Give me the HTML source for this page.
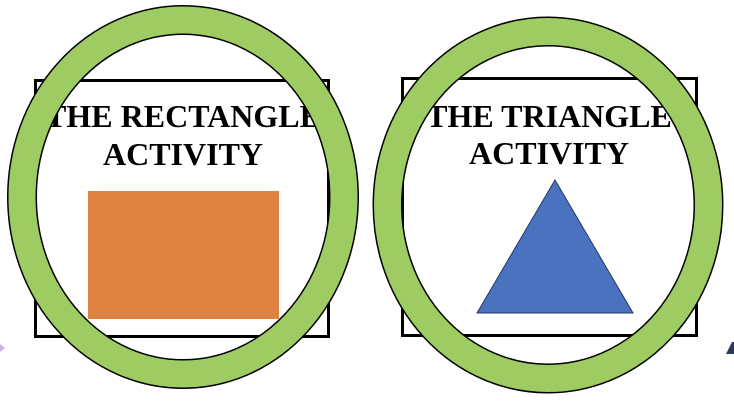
<!DOCTYPE html>
<html><head><style>html,body{margin:0;padding:0;background:#fff;width:734px;height:406px;overflow:hidden}</style></head>
<body>
<svg width="734" height="406" viewBox="0 0 734 406" xmlns="http://www.w3.org/2000/svg">
<rect x="35.5" y="80.5" width="293" height="256" fill="#fff" stroke="#000" stroke-width="3"/>
<text x="183" y="127" text-anchor="middle" font-family="Liberation Serif, serif" font-weight="bold" font-size="32">THE RECTANGLE</text>
<text x="183" y="165" text-anchor="middle" font-family="Liberation Serif, serif" font-weight="bold" font-size="32">ACTIVITY</text>
<rect x="88" y="191" width="191" height="128" fill="#E0823F"/>
<ellipse cx="183" cy="197" rx="161" ry="177" fill="none" stroke="#000" stroke-width="30"/>
<ellipse cx="183" cy="197" rx="161" ry="177" fill="none" stroke="#9FCC62" stroke-width="27"/>

<rect x="402.5" y="78.5" width="294" height="257" fill="#fff" stroke="#000" stroke-width="3"/>
<text x="549" y="127" text-anchor="middle" font-family="Liberation Serif, serif" font-weight="bold" font-size="32">THE TRIANGLE</text>
<text x="549" y="164" text-anchor="middle" font-family="Liberation Serif, serif" font-weight="bold" font-size="32">ACTIVITY</text>
<polygon points="555,180 477,313 633,313" fill="#4A72BE" stroke="#1f3864" stroke-width="1"/>
<ellipse cx="548" cy="205" rx="160.5" ry="173.5" fill="none" stroke="#000" stroke-width="30"/>
<ellipse cx="548" cy="205" rx="160.5" ry="173.5" fill="none" stroke="#9FCC62" stroke-width="27"/>
<polygon points="0,344 5,348 0,352" fill="#c9b6e6"/>
<polygon points="726,354 732,342 734,342 734,354" fill="#2b3a5a"/>
</svg>
</body></html>
